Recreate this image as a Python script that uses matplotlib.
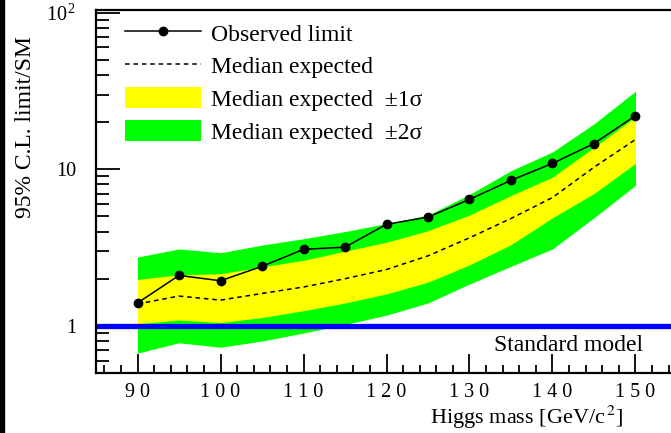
import matplotlib.pyplot as plt
import numpy as np
from matplotlib.lines import Line2D
from matplotlib.patches import Patch, Rectangle
from matplotlib.ticker import FixedLocator, FixedFormatter, LogLocator, MultipleLocator, NullFormatter

mass = [90, 95, 100, 105, 110, 115, 120, 125, 130, 135, 140, 145, 150]
observed = [1.40, 2.10, 1.94, 2.40, 3.08, 3.18, 4.45, 4.95, 6.42, 8.5, 10.9, 14.6, 22.0]
median = [1.38, 1.55, 1.46, 1.61, 1.77, 2.0, 2.29, 2.8, 3.65, 4.85, 6.6, 10.3, 15.5]
minus1 = [1.03, 1.09, 1.05, 1.13, 1.25, 1.4, 1.6, 1.9, 2.45, 3.3, 4.9, 7.0, 10.9]
plus1 = [1.98, 2.12, 2.15, 2.38, 2.62, 3.0, 3.42, 4.05, 5.1, 6.8, 8.9, 13.8, 21.6]
minus2 = [0.67, 0.78, 0.73, 0.80, 0.90, 1.02, 1.17, 1.40, 1.85, 2.4, 3.1, 4.9, 7.9]
plus2 = [2.75, 3.1, 2.93, 3.28, 3.6, 4.0, 4.5, 5.1, 6.9, 9.8, 12.9, 19.5, 31.5]

xticks = [90, 100, 110, 120, 130, 140, 150]
xticklabels = [" ".join(str(v)) for v in xticks]
labels = ["Observed limit", "Median expected",
          "Median expected  \u00b11\u03c3", "Median expected  \u00b12\u03c3"]

plt.rcParams['font.family'] = ['Liberation Serif', 'DejaVu Serif']
plt.rcParams['mathtext.fontset'] = 'stix'

W, H = 671, 433
fig = plt.figure(figsize=(W / 100, H / 100), dpi=100)
xmin, xmax = 85, 156
px_per_unit = 8.3
ax = fig.add_axes([96 / W, 1 - 373 / H, (xmax - xmin) * px_per_unit / W, 363 / H])

ax.fill_between(mass, minus2, plus2, color='#00ff00', lw=0)
ax.fill_between(mass, minus1, plus1, color='#ffff00', lw=0)
ax.plot(mass, median, color='black', ls=(0, (3, 2.5)), lw=1.1)
ax.plot(mass, observed, color='black', lw=1.1, marker='o', ms=6)
ax.axhline(1, color='#0000ff', lw=3.8)

ax.set_yscale('log')
ax.set_xlim(xmin, xmax)
ax.set_ylim(0.5, 104)

ax.xaxis.set_minor_locator(MultipleLocator(2))
ax.set_xticks(xticks)
ax.set_xticklabels(xticklabels)
ax.yaxis.set_major_locator(FixedLocator([1, 10, 100]))
ax.yaxis.set_major_formatter(FixedFormatter(["1", "10", r"$\mathregular{10^{\,2}}$"]))
ax.yaxis.set_minor_locator(LogLocator(subs=np.arange(2, 10)))
ax.yaxis.set_minor_formatter(NullFormatter())

ax.tick_params(which='both', direction='in', top=False, right=False, width=1.3, labelsize=14.5)
ax.tick_params(axis='x', which='major', length=14, pad=7)
ax.tick_params(axis='x', which='minor', length=6)
ax.tick_params(axis='y', which='major', length=17, pad=14)
ax.tick_params(axis='y', which='minor', length=9)
for s in ax.spines.values():
    s.set_linewidth(1.6)

fig.text(26 / W, 1 - 127 / H, "95% C.L. limit/SM", rotation=90, ha='center', va='center', fontsize=17)
fig.text(527 / W, 1 - 424 / H, "Higgs mass [GeV/c$^{\\,2}$]", ha='center', va='baseline', fontsize=16)
ax.text(150.9, 0.75, "Standard model", ha='right', va='center', fontsize=17)

handles = [
    Line2D([], [], color='black', lw=1.1, marker='o', ms=6),
    Line2D([], [], color='black', ls=(0, (3, 2.5)), lw=1.1),
    Patch(color='#ffff00', lw=0),
    Patch(color='#00ff00', lw=0),
]
fig.legend(handles, labels, loc='upper left', bbox_to_anchor=(125 / W, 1 - 22 / H),
           frameon=False, fontsize=17, handlelength=3.2, handleheight=1.0,
           handletextpad=0.45, labelspacing=0.38, borderpad=0, borderaxespad=0)

fig.patches.append(Rectangle((0, 0), 4 / W, 1, transform=fig.transFigure, color='black'))

fig.savefig("out.png", dpi=100)
